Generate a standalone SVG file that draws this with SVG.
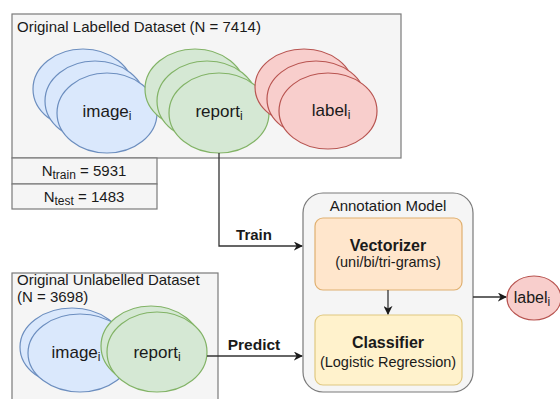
<svg xmlns="http://www.w3.org/2000/svg" width="560" height="399" viewBox="0 0 560 399">
<defs>
<marker id="arr" viewBox="0 0 10 10" refX="9" refY="5" markerWidth="9" markerHeight="9" markerUnits="userSpaceOnUse" orient="auto">
<path d="M0,0 L10,5 L0,10 L3,5 Z" fill="#1a1a1a"/>
</marker>
</defs>
<style>
text{font-family:"Liberation Sans",Arial,sans-serif;fill:#1a1a1a}
.box{fill:#f5f5f5;stroke:#7a7a7a;stroke-width:1.2}
.blue{fill:#dae8fc;stroke:#6c8ebf;stroke-width:1.2}
.green{fill:#d5e8d4;stroke:#82b366;stroke-width:1.2}
.red{fill:#f8cecc;stroke:#b85450;stroke-width:1.2}
.orange{fill:#ffe6cc;stroke:#e0b070;stroke-width:1.2}
.yellow{fill:#fff2cc;stroke:#e0c880;stroke-width:1.2}
.t{font-size:15px}
.e{font-size:17px}
.c{text-anchor:middle}
.b{font-weight:bold}
.sub{font-size:12px}
.line{fill:none;stroke:#333;stroke-width:1.3}
</style>
<rect width="560" height="399" fill="#ffffff"/>

<g id="labelled-dataset">
<rect class="box" x="12" y="14" width="389" height="144"/>
<text class="t" x="17" y="32">Original Labelled Dataset (N = 7414)</text>
<ellipse class="blue" cx="83" cy="89" rx="50" ry="40"/>
<ellipse class="blue" cx="95" cy="101" rx="50" ry="40"/>
<ellipse class="blue" cx="107" cy="113" rx="50" ry="40"/>
<text class="e c" x="107" y="117">image<tspan class="sub" dy="3">i</tspan></text>
<ellipse class="green" cx="195" cy="89" rx="50" ry="40"/>
<ellipse class="green" cx="207" cy="101" rx="50" ry="40"/>
<ellipse class="green" cx="219" cy="113" rx="50" ry="40"/>
<text class="e c" x="219" y="117">report<tspan class="sub" dy="3">i</tspan></text>
<ellipse class="red" cx="304" cy="87" rx="49" ry="38"/>
<ellipse class="red" cx="316" cy="99" rx="49" ry="38"/>
<ellipse class="red" cx="328" cy="111" rx="49" ry="38"/>
<text class="e c" x="331" y="116">label<tspan class="sub" dy="3">i</tspan></text>
</g>

<g id="split-table">
<rect class="box" x="12" y="158" width="145" height="26"/>
<rect class="box" x="12" y="184" width="145" height="25"/>
<text class="t c" x="84" y="176">N<tspan font-size="12" dy="3">train</tspan><tspan dy="-3"> = 5931</tspan></text>
<text class="t c" x="84" y="202">N<tspan font-size="12" dy="3">test</tspan><tspan dy="-3"> = 1483</tspan></text>
</g>

<g id="unlabelled-dataset">
<rect class="box" x="12" y="273" width="206" height="140"/>
<text class="t" x="17" y="285">Original Unlabelled Dataset</text>
<text class="t" x="17" y="302">(N = 3698)</text>
<ellipse class="blue" cx="72" cy="347" rx="52" ry="39"/>
<ellipse class="blue" cx="80" cy="353" rx="52" ry="39"/>
<text class="e c" x="76" y="358">image<tspan class="sub" dy="3">i</tspan></text>
<ellipse class="green" cx="151" cy="346" rx="50" ry="40"/>
<ellipse class="green" cx="157" cy="352" rx="50" ry="40"/>
<text class="e c" x="157" y="358">report<tspan class="sub" dy="3">i</tspan></text>
</g>

<g id="annotation-model">
<rect class="box" x="303" y="193" width="170" height="199" rx="20"/>
<text class="c" x="388" y="211" font-size="15">Annotation Model</text>
</g>

<g id="vectorizer">
<rect class="orange" x="315" y="218" width="147" height="72" rx="8"/>
<text class="c b" x="388" y="251" font-size="16">Vectorizer</text>
<text class="c" x="388" y="267" font-size="14.5">(uni/bi/tri-grams)</text>
</g>

<g id="classifier">
<rect class="yellow" x="315" y="315" width="147" height="70" rx="8"/>
<text class="c b" x="388" y="348" font-size="16">Classifier</text>
<text class="c" x="388" y="367" font-size="14.5">(Logistic Regression)</text>
</g>

<g id="output-label">
<ellipse class="red" cx="534" cy="298" rx="27" ry="22"/>
<text class="c" x="532" y="303" font-size="16">label<tspan class="sub" dy="3">i</tspan></text>
</g>

<g id="connectors">
<path class="line" d="M219,153 V246 H302" marker-end="url(#arr)"/>
<text class="c b" x="254" y="240" font-size="15">Train</text>
<path class="line" d="M207,356 H302" marker-end="url(#arr)"/>
<text class="c b" x="254" y="350" font-size="15.5">Predict</text>
<path class="line" d="M388,290 V314" marker-end="url(#arr)"/>
<path class="line" d="M473,297 H506" marker-end="url(#arr)"/>
</g>
</svg>
